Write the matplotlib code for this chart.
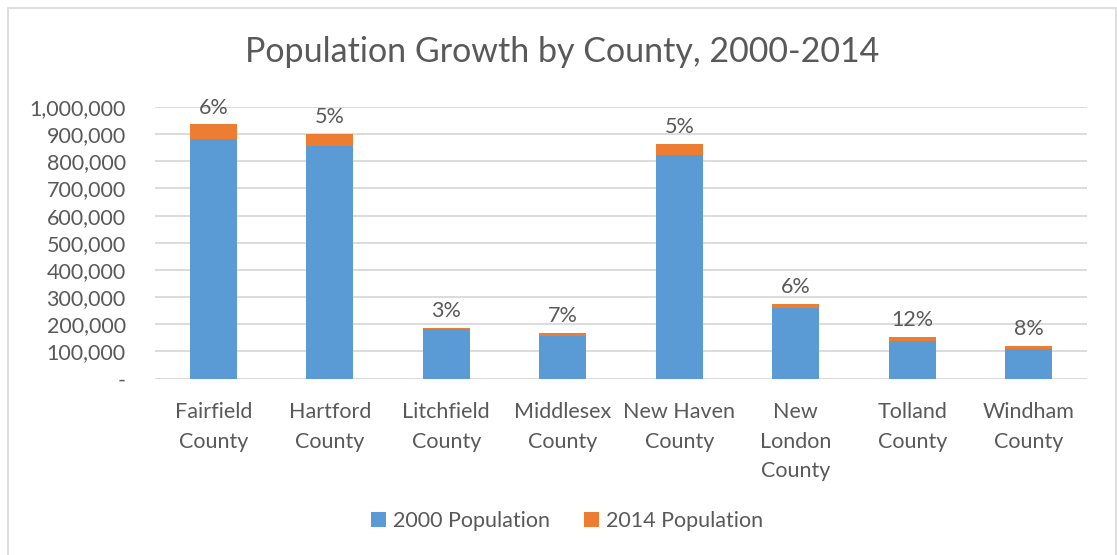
import matplotlib
matplotlib.use("Agg")
import matplotlib.pyplot as plt
from matplotlib.patches import Rectangle
from matplotlib.ticker import FuncFormatter
import numpy as np

plt.rcParams['font.family'] = ['Lato', 'DejaVu Sans']

counties = ["Fairfield\nCounty", "Hartford\nCounty", "Litchfield\nCounty",
            "Middlesex\nCounty", "New Haven\nCounty", "New\nLondon\nCounty",
            "Tolland\nCounty", "Windham\nCounty"]
pop_2000 = [882567, 857183, 182193, 155071, 824008, 259088, 136364, 109091]
growth_2014 = [53000, 42000, 5500, 11000, 40000, 15000, 16000, 9000]
series_names = ["2000 Population", "2014 Population"]
yticks = [0, 100000, 200000, 300000, 400000, 500000, 600000, 700000,
          800000, 900000, 1000000]

blue = "#5b9bd5"
orange = "#ed7d31"
text_col = "#595959"
grid_col = "#d9d9d9"

W, H = 1117, 555
fig = plt.figure(figsize=(W / 100, H / 100), dpi=100)
fig.patch.set_facecolor("white")

# chart-area frame
fig.add_artist(Rectangle((8 / W, -0.01), (1116 - 8) / W, (H - 8) / H + 0.01,
                         transform=fig.transFigure, fill=False,
                         edgecolor=grid_col, linewidth=1.2))

ax = fig.add_axes([155 / W, 1 - 378.5 / H, (1087 - 155) / W, (378.5 - 107) / H])

x = np.arange(len(counties))
ax.bar(x, pop_2000, width=0.4, color=blue, label=series_names[0], zorder=3)
ax.bar(x, growth_2014, width=0.4, bottom=pop_2000, color=orange,
       label=series_names[1], zorder=3)

for xi, base, inc in zip(x, pop_2000, growth_2014):
    ax.annotate(f"{inc / base:.0%}", (xi, base + inc), xytext=(0, 5),
                textcoords="offset points", ha="center", va="bottom",
                fontsize=15.5, color=text_col)

ax.set_xlim(-0.5, len(counties) - 0.5)
ax.set_ylim(0, 1000000)
ax.set_yticks(yticks)
ax.yaxis.set_major_formatter(FuncFormatter(
    lambda v, p: "-" if v == 0 else f"{v:,.0f}"))
ax.set_xticks(x)
ax.set_xticklabels(counties, linespacing=1.6)
ax.tick_params(axis="both", length=0, colors=text_col, labelsize=15.5)
ax.tick_params(axis="y", pad=21)
ax.tick_params(axis="x", pad=17)
for lbl in ax.get_xticklabels():
    lbl.set_verticalalignment("top")
ax.grid(axis="y", color=grid_col, linewidth=1.3, zorder=0)
for s in ax.spines.values():
    s.set_visible(False)

fig.text(562 / W, 1 - 52 / H, "Population Growth by County, 2000-2014",
         ha="center", va="center", fontsize=24.5, color=text_col)

ax.legend(loc="center", bbox_to_anchor=(567 / W, 1 - 521 / H),
          bbox_transform=fig.transFigure, ncol=2, frameon=False,
          fontsize=15.5, labelcolor=text_col, handlelength=0.7,
          handleheight=0.7, handletextpad=0.3, columnspacing=1.6)

fig.savefig("out.png", dpi=100, facecolor="white")
